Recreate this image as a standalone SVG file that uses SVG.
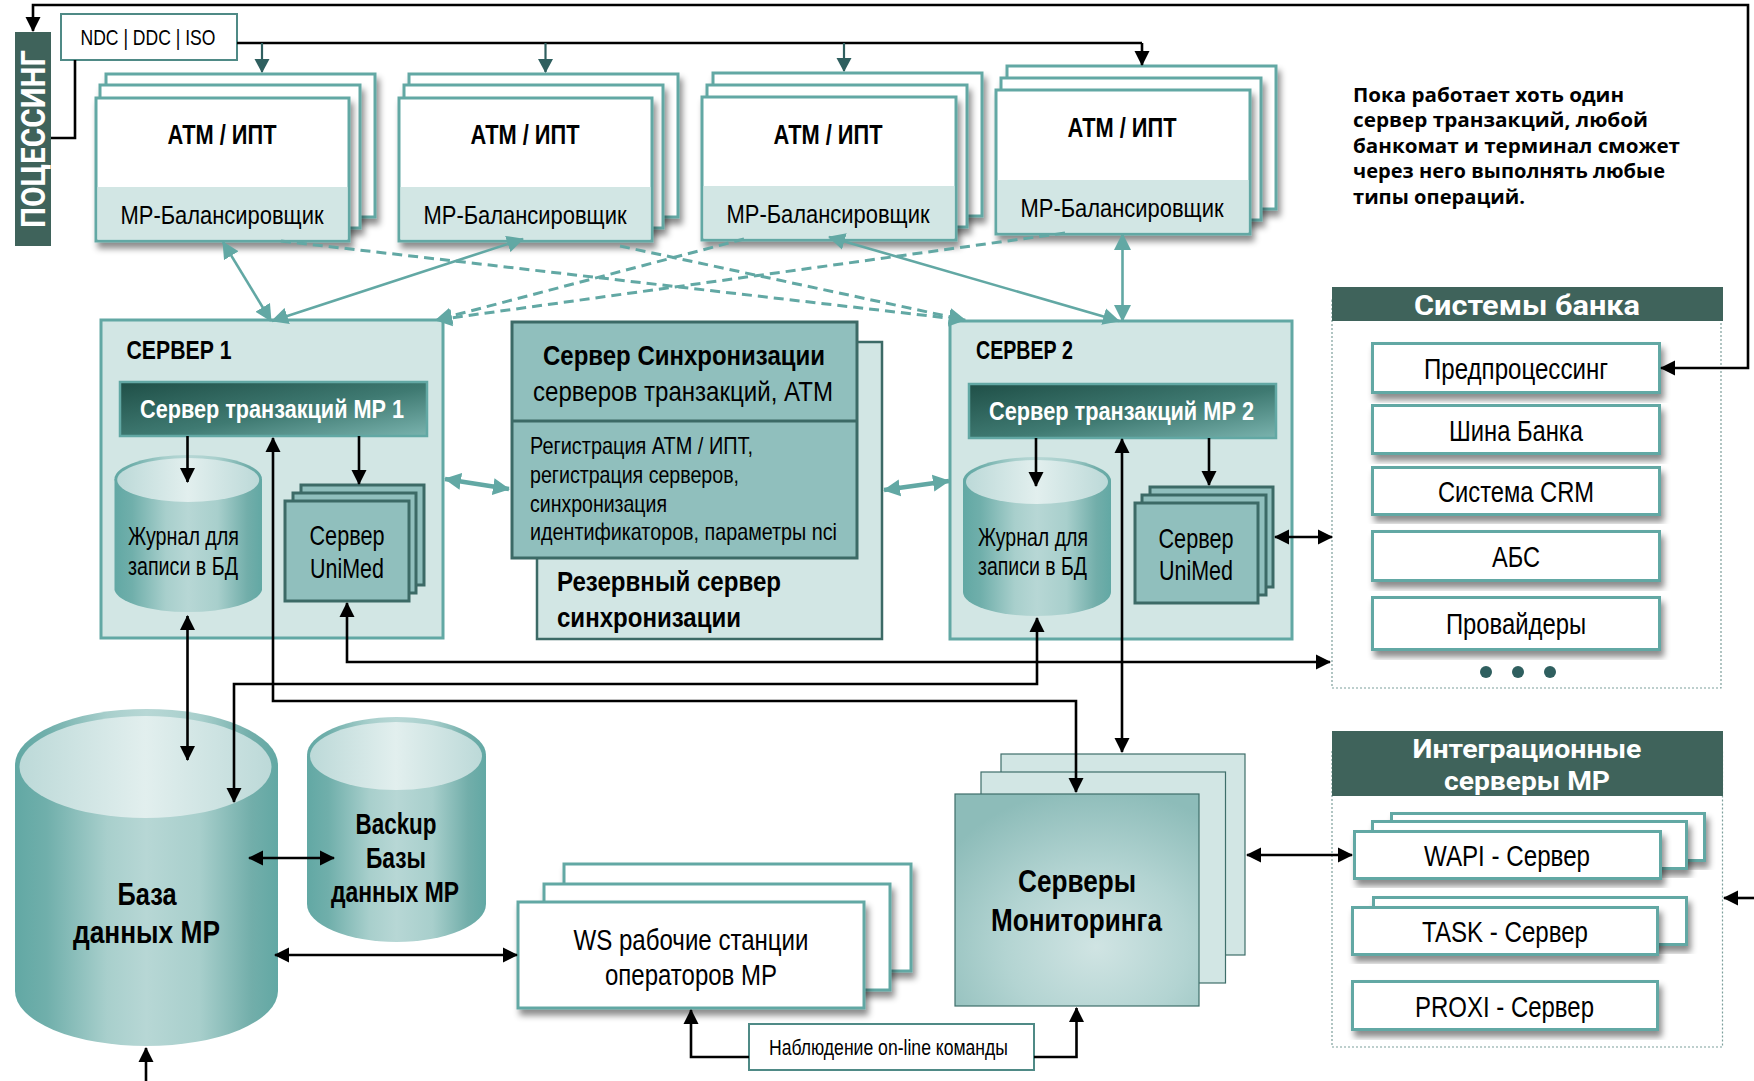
<svg xmlns="http://www.w3.org/2000/svg" width="1754" height="1081" viewBox="0 0 1754 1081">
<style>
text{font-family:"Liberation Sans",Arial,sans-serif;fill:#000;text-anchor:middle}
.b{font-weight:700}
.w{fill:#fff}
.h{font-family:Roboto,"Open Sans","Liberation Sans",sans-serif;font-weight:700;fill:#fff}
.n{font-family:"Open Sans","Liberation Sans",sans-serif;font-weight:700;text-anchor:start;font-size:19px}
.l{text-anchor:start}
.box{fill:#fff;stroke:#62a8a4;stroke-width:3;filter:url(#sh)}
.lite{fill:#d2e6e4;stroke:none}
.srv{fill:#d2e6e4;stroke:#62a8a4;stroke-width:3}
.uni{fill:#90bfbd;stroke:#3c6a66;stroke-width:3}
.mon{fill:#d2e6e4;stroke:#3e6e6a;stroke-width:1.2}
.pan{fill:#fff;stroke:#7d9f9b;stroke-width:1.2;stroke-dasharray:2 2}
.k{fill:none;stroke:#000;stroke-width:2.6}
.ka{marker-end:url(#ah)}
.kaa{marker-start:url(#ah);marker-end:url(#ah)}
.d{fill:none;stroke:#2f5f5f;stroke-width:2.2;marker-end:url(#ad)}
.t{fill:none;stroke:#62a8a4;stroke-width:2.6;marker-start:url(#at);marker-end:url(#at)}
.t2{stroke-width:4.5}
.ds{fill:none;stroke:#62a8a4;stroke-width:3;stroke-dasharray:10 6;marker-end:url(#at)}
</style>
<defs>
<filter id="sh" x="-10%" y="-10%" width="125%" height="130%"><feDropShadow dx="3" dy="6" stdDeviation="3" flood-color="#000" flood-opacity=".45"/></filter>
<marker id="ah" markerUnits="userSpaceOnUse" markerWidth="16" markerHeight="16" refX="14" refY="8" orient="auto-start-reverse"><path d="M0,0.5L15,8L0,15.5z" fill="#000"/></marker>
<marker id="ad" markerUnits="userSpaceOnUse" markerWidth="16" markerHeight="16" refX="13" refY="8" orient="auto-start-reverse"><path d="M0,0.5L14,8L0,15.5z" fill="#2f5f5f"/></marker>
<marker id="at" markerUnits="userSpaceOnUse" markerWidth="18" markerHeight="18" refX="16" refY="9" orient="auto-start-reverse"><path d="M0,0.5L17,9L0,17.5z" fill="#62a8a4"/></marker>
<linearGradient id="body"><stop offset="0" stop-color="#62a8a4"/><stop offset=".12" stop-color="#70afab"/><stop offset=".35" stop-color="#a8cfcc"/><stop offset=".5" stop-color="#b7d7d5"/><stop offset=".7" stop-color="#a8cfcc"/><stop offset=".9" stop-color="#72aeaa"/><stop offset="1" stop-color="#62a8a4"/></linearGradient>
<linearGradient id="top"><stop offset="0" stop-color="#bcd9d8"/><stop offset=".5" stop-color="#e2efee"/><stop offset="1" stop-color="#bcd9d8"/></linearGradient>
<linearGradient id="tr" x1="0" y1="0" x2="1" y2="1"><stop offset="0" stop-color="#1f4f47"/><stop offset=".55" stop-color="#3f7a72"/><stop offset="1" stop-color="#7ab3ae"/></linearGradient>
<radialGradient id="mg" cx=".58" cy=".72" r=".75"><stop offset="0" stop-color="#d0e4e3"/><stop offset=".5" stop-color="#b3d4d2"/><stop offset="1" stop-color="#8dbcb9"/></radialGradient>
</defs>

<g id="processing"><rect x="15" y="32" width="36" height="214" fill="#3f635b"/><text class="h" transform="translate(45,139) rotate(-90)" font-size="33" textLength="178" lengthAdjust="spacingAndGlyphs">ПОЦЕССИНГ</text></g>
<g id="protocols"><rect x="61" y="14" width="176" height="46" fill="#fff" stroke="#4f8a86" stroke-width="2"/><text x="148" y="45" font-size="22" textLength="135" lengthAdjust="spacingAndGlyphs">NDC | DDC | ISO</text></g>

<g id="atm1"><rect class="box" x="106" y="74" width="269" height="143"/><rect class="box" x="100" y="85" width="260" height="143"/><rect class="box" x="96" y="98" width="253" height="143"/><rect class="lite" x="97.500" y="187" width="250" height="52.500"/><text class="b" x="222" y="144" font-size="27" textLength="109" lengthAdjust="spacingAndGlyphs">АТМ / ИПТ</text><text x="222" y="224" font-size="26" textLength="203" lengthAdjust="spacingAndGlyphs">МР-Балансировщик</text></g>
<g id="atm2"><rect class="box" x="409" y="74" width="269" height="143"/><rect class="box" x="404" y="85" width="259" height="143"/><rect class="box" x="399" y="98" width="253" height="143"/><rect class="lite" x="400.500" y="187" width="250" height="52.500"/><text class="b" x="525" y="144" font-size="27" textLength="109" lengthAdjust="spacingAndGlyphs">АТМ / ИПТ</text><text x="525" y="224" font-size="26" textLength="203" lengthAdjust="spacingAndGlyphs">МР-Балансировщик</text></g>
<g id="atm3"><rect class="box" x="713" y="73" width="269" height="143"/><rect class="box" x="707" y="85" width="260" height="142"/><rect class="box" x="702" y="97" width="254" height="143"/><rect class="lite" x="703.500" y="186" width="251" height="52.500"/><text class="b" x="828" y="144" font-size="27" textLength="109" lengthAdjust="spacingAndGlyphs">АТМ / ИПТ</text><text x="828" y="223" font-size="26" textLength="203" lengthAdjust="spacingAndGlyphs">МР-Балансировщик</text></g>
<g id="atm4"><rect class="box" x="1007" y="66" width="269" height="143"/><rect class="box" x="1001" y="78" width="260" height="142"/><rect class="box" x="996" y="90" width="254" height="144"/><rect class="lite" x="997.500" y="180" width="251" height="52.500"/><text class="b" x="1122" y="137" font-size="27" textLength="109" lengthAdjust="spacingAndGlyphs">АТМ / ИПТ</text><text x="1122" y="217" font-size="26" textLength="203" lengthAdjust="spacingAndGlyphs">МР-Балансировщик</text></g>

<g id="note"><text class="n" x="1353" y="102" textLength="271" lengthAdjust="spacingAndGlyphs">Пока работает хоть один</text><text class="n" x="1353" y="127" textLength="295" lengthAdjust="spacingAndGlyphs">сервер транзакций, любой</text><text class="n" x="1353" y="153" textLength="327" lengthAdjust="spacingAndGlyphs">банкомат и терминал сможет</text><text class="n" x="1353" y="178" textLength="312" lengthAdjust="spacingAndGlyphs">через него выполнять любые</text><text class="n" x="1353" y="204" textLength="172" lengthAdjust="spacingAndGlyphs">типы операций.</text></g>

<g id="server1"><rect class="srv" x="101" y="320" width="342" height="318"/><text class="b" x="179" y="359" font-size="25" textLength="105" lengthAdjust="spacingAndGlyphs">СЕРВЕР 1</text><rect x="120" y="382" width="307" height="54" fill="url(#tr)" stroke="#62a8a4" stroke-width="2.500"/><text class="b w" x="272" y="418" font-size="26" textLength="264" lengthAdjust="spacingAndGlyphs">Сервер транзакций МР 1</text>
<path d="M114.500,479v111a74,24 0 0 0 147.500,0v-111z" fill="url(#body)"/><ellipse cx="188.200" cy="479" rx="73.700" ry="24" fill="url(#body)"/><ellipse cx="188.200" cy="480" rx="71" ry="22" fill="url(#top)"/><text x="183.500" y="545" font-size="25" textLength="111" lengthAdjust="spacingAndGlyphs">Журнал для</text><text x="183" y="575" font-size="25" textLength="110" lengthAdjust="spacingAndGlyphs">записи в БД</text>
<rect class="uni" x="301" y="485" width="123" height="100"/><rect class="uni" x="293" y="493" width="123" height="100"/><rect class="uni" x="285" y="501" width="124" height="100"/><text x="347" y="545" font-size="28" textLength="75" lengthAdjust="spacingAndGlyphs">Сервер</text><text x="347" y="578" font-size="28" textLength="74" lengthAdjust="spacingAndGlyphs">UniMed</text></g>

<g id="sync"><rect x="537" y="342" width="345" height="297" fill="#d2e6e4" stroke="#3c6a66" stroke-width="2.500"/><rect x="512" y="322" width="345" height="236" fill="#90bfbd" stroke="#3c6a66" stroke-width="3"/><path d="M512,421H857" stroke="#3c6a66" stroke-width="3"/>
<text class="b" x="684" y="365" font-size="28" textLength="282" lengthAdjust="spacingAndGlyphs">Сервер Синхронизации</text><text x="683" y="401" font-size="28" textLength="300" lengthAdjust="spacingAndGlyphs">серверов транзакций, АТМ</text>
<text class="l" x="530" y="454" font-size="24" textLength="223" lengthAdjust="spacingAndGlyphs">Регистрация АТМ / ИПТ,</text><text class="l" x="530" y="483" font-size="24" textLength="209" lengthAdjust="spacingAndGlyphs">регистрация серверов,</text><text class="l" x="530" y="512" font-size="24" textLength="137" lengthAdjust="spacingAndGlyphs">синхронизация</text><text class="l" x="530" y="540" font-size="24" textLength="307" lengthAdjust="spacingAndGlyphs">идентификаторов, параметры nci</text>
<text class="b l" x="557" y="591" font-size="28" textLength="224" lengthAdjust="spacingAndGlyphs">Резервный сервер</text><text class="b l" x="557" y="627" font-size="28" textLength="184" lengthAdjust="spacingAndGlyphs">синхронизации</text></g>

<g id="server2"><rect class="srv" x="950" y="321" width="342" height="318"/><text class="b" x="1024.500" y="359" font-size="25" textLength="97" lengthAdjust="spacingAndGlyphs">СЕРВЕР 2</text><rect x="969" y="384" width="307" height="54" fill="url(#tr)" stroke="#62a8a4" stroke-width="2.500"/><text class="b w" x="1121.500" y="420" font-size="26" textLength="265" lengthAdjust="spacingAndGlyphs">Сервер транзакций МР 2</text>
<path d="M963,481v111a74,24 0 0 0 148,0v-111z" fill="url(#body)"/><ellipse cx="1037" cy="481" rx="74" ry="24" fill="url(#body)"/><ellipse cx="1037" cy="482" rx="71" ry="22" fill="url(#top)"/><text x="1033" y="546" font-size="25" textLength="110" lengthAdjust="spacingAndGlyphs">Журнал для</text><text x="1032.500" y="575" font-size="25" textLength="109" lengthAdjust="spacingAndGlyphs">записи в БД</text>
<rect class="uni" x="1150" y="487" width="123" height="100"/><rect class="uni" x="1142" y="495" width="124" height="100"/><rect class="uni" x="1135" y="503" width="123" height="100"/><text x="1196" y="548" font-size="28" textLength="75" lengthAdjust="spacingAndGlyphs">Сервер</text><text x="1196" y="580" font-size="28" textLength="74" lengthAdjust="spacingAndGlyphs">UniMed</text></g>

<g id="bank"><rect class="pan" x="1332" y="300" width="389" height="388"/><rect x="1332" y="287" width="391" height="34" fill="#3f635b"/><text class="h" x="1527" y="315" font-size="28" textLength="226" lengthAdjust="spacingAndGlyphs">Системы банка</text>
<rect class="box" x="1372.500" y="343.500" width="287" height="49"/><text x="1516" y="379" font-size="29" textLength="184" lengthAdjust="spacingAndGlyphs">Предпроцессинг</text>
<rect class="box" x="1372.500" y="405.500" width="287" height="48"/><text x="1516" y="441" font-size="29" textLength="134" lengthAdjust="spacingAndGlyphs">Шина Банка</text>
<rect class="box" x="1372.500" y="467.500" width="287" height="47"/><text x="1516" y="502" font-size="29" textLength="156" lengthAdjust="spacingAndGlyphs">Система CRM</text>
<rect class="box" x="1372.500" y="531.500" width="287" height="49"/><text x="1516" y="567" font-size="29" textLength="48" lengthAdjust="spacingAndGlyphs">АБС</text>
<rect class="box" x="1372.500" y="597.500" width="287" height="52"/><text x="1516" y="634" font-size="29" textLength="140" lengthAdjust="spacingAndGlyphs">Провайдеры</text>
<circle cx="1486" cy="672" r="6" fill="#2f5f5f"/><circle cx="1518" cy="672" r="6" fill="#2f5f5f"/><circle cx="1550" cy="672" r="6" fill="#2f5f5f"/></g>

<g id="db"><path d="M15,765V991a131.500,55 0 0 0 263,0V765z" fill="url(#body)"/><ellipse cx="146.500" cy="765" rx="131.500" ry="56" fill="url(#body)"/><ellipse cx="145.500" cy="767" rx="126" ry="51" fill="url(#top)"/><text class="b" x="147" y="905" font-size="31" textLength="59" lengthAdjust="spacingAndGlyphs">База</text><text class="b" x="146.500" y="943" font-size="31" textLength="147" lengthAdjust="spacingAndGlyphs">данных МР</text></g>
<g id="backup"><path d="M307,756V904a89.500,38 0 0 0 179,0V756z" fill="url(#body)"/><ellipse cx="396.500" cy="755" rx="89.500" ry="38" fill="url(#body)"/><ellipse cx="396" cy="756" rx="86" ry="34" fill="url(#top)"/><text class="b" x="396" y="834" font-size="29" textLength="81" lengthAdjust="spacingAndGlyphs">Backup</text><text class="b" x="396" y="868" font-size="29" textLength="60" lengthAdjust="spacingAndGlyphs">Базы</text><text class="b" x="395" y="902" font-size="29" textLength="128" lengthAdjust="spacingAndGlyphs">данных МР</text></g>

<g id="ws"><rect class="box" x="564" y="864" width="347" height="107"/><rect class="box" x="544" y="884" width="346" height="106"/><rect class="box" x="518" y="902" width="346" height="106"/><text x="691" y="950" font-size="29" textLength="235" lengthAdjust="spacingAndGlyphs">WS рабочие станции</text><text x="691" y="985" font-size="29" textLength="172" lengthAdjust="spacingAndGlyphs">операторов МР</text></g>
<g id="monitoring"><rect class="mon" x="1001" y="754" width="244" height="201"/><rect class="mon" x="981" y="772" width="244.500" height="211"/><rect x="955" y="794" width="244" height="212" fill="url(#mg)" stroke="#3e6e6a" stroke-width="1.200"/><text class="b" x="1077" y="892" font-size="32" textLength="118" lengthAdjust="spacingAndGlyphs">Серверы</text><text class="b" x="1076.500" y="931" font-size="32" textLength="171" lengthAdjust="spacingAndGlyphs">Мониторинга</text></g>
<g id="watch"><rect x="749" y="1024" width="285" height="46" fill="#fff" stroke="#4f8a86" stroke-width="2"/><text x="888.500" y="1055" font-size="22" textLength="239" lengthAdjust="spacingAndGlyphs">Наблюдение on-line команды</text></g>

<g id="integration"><rect class="pan" x="1332" y="750" width="390.500" height="297"/><rect x="1332" y="731" width="391" height="65" fill="#3f635b"/><text class="h" x="1527" y="758" font-size="26" textLength="229" lengthAdjust="spacingAndGlyphs">Интеграционные</text><text class="h" x="1527" y="790" font-size="26" textLength="166" lengthAdjust="spacingAndGlyphs">серверы МР</text>
<rect class="box" x="1391.500" y="813.500" width="313" height="47"/><rect class="box" x="1372.500" y="821.500" width="314" height="47"/><rect class="box" x="1354.500" y="831.500" width="306" height="47"/><text x="1507" y="866" font-size="29" textLength="166" lengthAdjust="spacingAndGlyphs">WAPI - Сервер</text>
<rect class="box" x="1373.500" y="897.500" width="313" height="47"/><rect class="box" x="1352.500" y="907.500" width="305" height="47"/><text x="1505" y="942" font-size="29" textLength="166" lengthAdjust="spacingAndGlyphs">TASK - Сервер</text>
<rect class="box" x="1352.500" y="981.500" width="305" height="48"/><text x="1504.500" y="1017" font-size="29" textLength="179" lengthAdjust="spacingAndGlyphs">PROXI - Сервер</text></g>

<g id="connectors">
<path class="k kaa" d="M1661,368H1748V5H33V31"/>
<path class="k" d="M51,138H75V60"/>
<path class="k" d="M237,43H1142"/>
<path class="k ka" d="M1142,43V65"/>
<path class="d" d="M262,43V72"/><path class="d" d="M545.500,43V72"/><path class="d" d="M844,43V71"/>
<path class="t" d="M223,242L271,321"/><path class="t" d="M523,239L272,321"/><path class="t" d="M829,237L1119,321"/><path class="t" d="M1122.500,234V321"/>
<path class="ds" d="M281,241L965,320"/><path class="ds" d="M620,246L965,320"/><path class="ds" d="M744,239L436,320"/><path class="ds" d="M1065,233L436,320"/>
<path class="t t2" d="M445,479L509,489"/><path class="t t2" d="M884,490L949,481"/>
<path class="k ka" d="M187.500,436V482"/><path class="k ka" d="M359,436V484"/><path class="k ka" d="M1036,438V486"/><path class="k ka" d="M1209,438V485"/>
<path class="k kaa" d="M187.500,616V760"/>
<path class="k kaa" d="M1076,792V701H273V438"/>
<path class="k kaa" d="M347,603V662H1330"/>
<path class="k kaa" d="M1037,618V684H234V802"/>
<path class="k kaa" d="M1122,439V752"/>
<path class="k kaa" d="M1275,537H1332"/>
<path class="k kaa" d="M249,858H334"/>
<path class="k kaa" d="M275,955H517"/>
<path class="k kaa" d="M1247,855H1352"/>
<path class="k ka" d="M146,1081V1048"/>
<path class="k ka" d="M1754,898H1724"/>
<path class="k ka" d="M749,1057H691V1010"/>
<path class="k ka" d="M1034,1057H1076.500V1008"/>
</g>
</svg>
